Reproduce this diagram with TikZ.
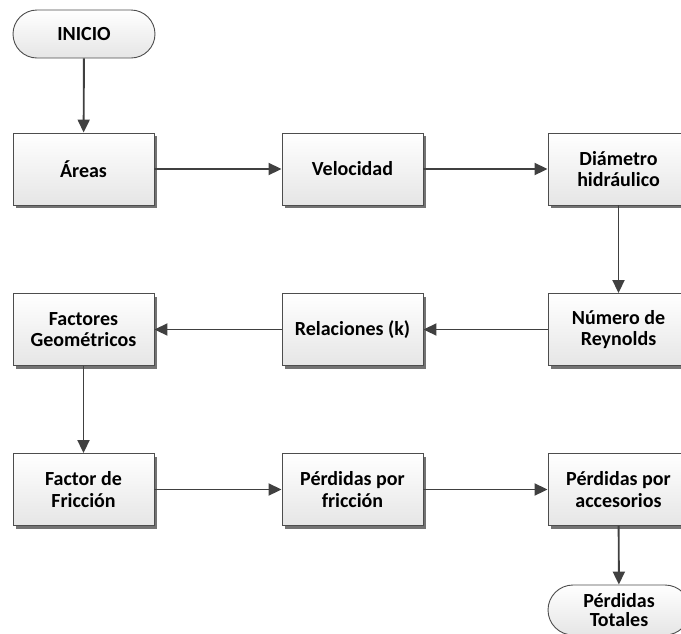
\documentclass[tikz,border=0pt]{standalone}
\usepackage{fontspec}
\setmainfont{Carlito}
\usetikzlibrary{arrows.meta,shadows}
\definecolor{edgec}{HTML}{4d4d4d}
\definecolor{arrc}{HTML}{404040}
\tikzset{
  boxfont/.style={font=\fontsize{20}{21.5}\selectfont\bfseries},
  procbox/.style={rectangle, draw=edgec, line width=0.9pt, top color=white, bottom color=black!10,
    minimum width=141pt, minimum height=72pt, inner sep=0pt, align=center, boxfont,
    drop shadow={shadow xshift=3pt, shadow yshift=-3pt, fill=black!55, opacity=1}},
  termbox/.style={rectangle, rounded corners=24pt, draw=edgec, line width=0.9pt, top color=white,
    bottom color=black!10, minimum width=142pt, minimum height=48pt, inner sep=0pt, align=center, boxfont},
  flow/.style={draw=arrc, line width=1.9pt, -{Triangle[length=13pt,width=12pt]}}
}
\begin{document}
\begin{tikzpicture}[x=1pt,y=-1pt]
\useasboundingbox (0,0) rectangle (681,633);
\clip (0,0) rectangle (681,633);
\node[termbox] (inicio) at (84,34) {INICIO};
\node[procbox] (areas) at (83.5,169) {Áreas};
\node[procbox] (vel) at (352.5,169) {Velocidad};
\node[procbox] (diam) at (618.5,169) {Diámetro\\hidráulico};
\node[procbox] (rey) at (618.5,329.5) {Número de\\Reynolds};
\node[procbox] (rel) at (352.5,329.5) {Relaciones (k)};
\node[procbox] (fac) at (83.5,329.5) {Factores\\Geométricos};
\node[procbox] (fric) at (83.5,489.5) {Factor de\\Fricción};
\node[procbox] (perd) at (352.5,489.5) {Pérdidas por\\fricción};
\node[procbox] (acc) at (618.5,489.5) {Pérdidas por\\accesorios};
\node[termbox, rounded corners=25pt, minimum height=50pt, font=\fontsize{20}{19.5}\selectfont\bfseries] (tot) at (619,610) {Pérdidas\\Totales};
\draw[flow] (inicio) -- (areas);
\draw[flow] (areas) -- (vel);
\draw[flow] (vel) -- (diam);
\draw[flow] (diam) -- (rey);
\draw[flow] (rey) -- (rel);
\draw[flow] (rel) -- (fac);
\draw[flow] (fac) -- (fric);
\draw[flow] (fric) -- (perd);
\draw[flow] (perd) -- (acc);
\draw[flow] (acc) -- (tot);
\end{tikzpicture}
\end{document}
